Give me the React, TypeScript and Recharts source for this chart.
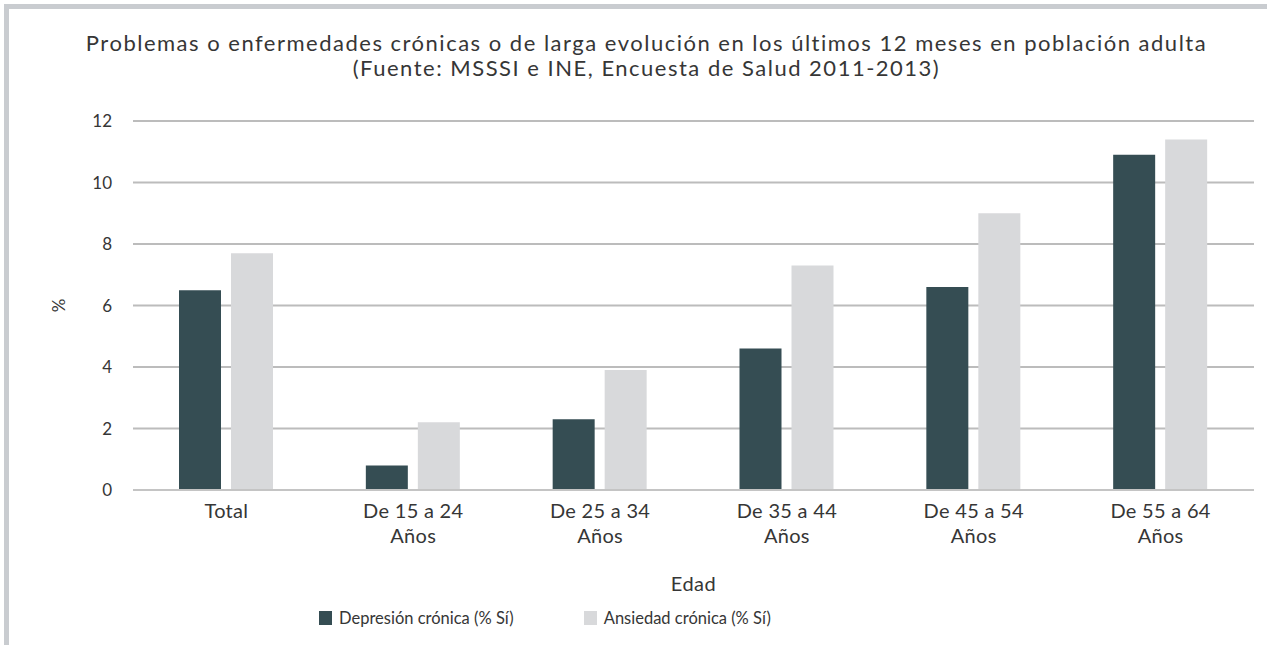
import { BarChart, Bar, XAxis, YAxis, CartesianGrid } from "recharts";

const categories = [
  "Total",
  "De 15 a 24 Años",
  "De 25 a 34 Años",
  "De 35 a 44 Años",
  "De 45 a 54 Años",
  "De 55 a 64 Años",
];
const depresion = [6.5, 0.8, 2.3, 4.6, 6.6, 10.9];
const ansiedad = [7.7, 2.2, 3.9, 7.3, 9.0, 11.4];
const yTicks = [0, 2, 4, 6, 8, 10, 12];

const seriesNames = ["Depresión crónica (% Sí)", "Ansiedad crónica (% Sí)"];
const seriesColors = ["#354d53", "#d8d9db"];

const data = categories.map((c, i) => ({
  edad: c,
  depresion: depresion[i],
  ansiedad: ansiedad[i],
}));

const FONT = "Lato, 'Noto Sans', sans-serif";
const TEXT = "#363636";

function EdadTick({ x, y, payload }: any) {
  const v: string = payload.value;
  const lines = v.endsWith(" Años") ? [v.slice(0, -5), "Años"] : [v];
  return (
    <text x={x} y={y} textAnchor="middle" fill={TEXT} fontSize={20} fontFamily={FONT} letterSpacing={0.3}>
      {lines.map((l, i) => (
        <tspan key={i} x={x} dy={i === 0 ? 20 : 25}>
          {l}
        </tspan>
      ))}
    </text>
  );
}

export default function App() {
  return (
    <div
      style={{
        position: "absolute",
        left: 0,
        top: 0,
        width: 1267,
        height: 645,
        background: "#fff",
        fontFamily: FONT,
        overflow: "hidden",
      }}
    >
      {/* marco gris */}
      <div
        style={{
          position: "absolute",
          left: 4,
          top: 4,
          width: 1300,
          height: 636,
          borderLeft: "5px solid #c9ccd0",
          borderTop: "5px solid #c9ccd0",
          borderBottom: "2px solid #c9ccd0",
        }}
      />
      <div
        style={{
          position: "absolute",
          left: 0,
          top: 30,
          width: 1267,
          textAlign: "center",
          color: TEXT,
          fontSize: 22,
          lineHeight: "25px",
          letterSpacing: 1.5,
          paddingLeft: 26,
          boxSizing: "border-box",
        }}
      >
        <div>Problemas o enfermedades crónicas o de larga evolución en los últimos 12 meses en población adulta</div>
        <div>(Fuente: MSSSI e INE, Encuesta de Salud 2011-2013)</div>
      </div>
      <div style={{ position: "absolute", left: 0, top: 0 }}>
        <BarChart
          width={1267}
          height={645}
          data={data}
          margin={{ top: 121, right: 13, left: 0, bottom: 54 }}
          barSize={42}
          barGap={10}
        >
          <CartesianGrid vertical={false} stroke="#bcbcbc" strokeWidth={2} />
          <XAxis
            dataKey="edad"
            height={101}
            axisLine={{ stroke: "#c4c4c4", strokeWidth: 2 }}
            tickLine={false}
            tick={<EdadTick />}
            interval={0}
            label={{ value: "Edad", position: "insideBottom", offset: 0, fill: TEXT, fontSize: 20, fontFamily: FONT, letterSpacing: 0.5 }}
          />
          <YAxis
            width={133}
            domain={[0, 12]}
            ticks={yTicks}
            axisLine={false}
            tickLine={false}
            tickMargin={15}
            tick={{ fill: TEXT, fontSize: 17, fontFamily: FONT }}
            label={{ value: "%", angle: -90, position: "center", dx: -8, fill: TEXT, fontSize: 17, fontFamily: FONT }}
          />
          <Bar dataKey="depresion" name={seriesNames[0]} fill={seriesColors[0]} isAnimationActive={false} />
          <Bar dataKey="ansiedad" name={seriesNames[1]} fill={seriesColors[1]} isAnimationActive={false} />
        </BarChart>
      </div>
      {/* leyenda */}
      <div
        style={{
          position: "absolute",
          left: 319,
          top: 607,
          display: "flex",
          alignItems: "center",
          color: TEXT,
          fontSize: 16.5,
          lineHeight: "22px",
        }}
      >
        {seriesNames.map((n, i) => (
          <div key={n} style={{ display: "flex", alignItems: "center", marginRight: i === 0 ? 70 : 0 }}>
            <span style={{ width: 13, height: 14, background: seriesColors[i], marginRight: 7, display: "inline-block" }} />
            <span>{n}</span>
          </div>
        ))}
      </div>
    </div>
  );
}
